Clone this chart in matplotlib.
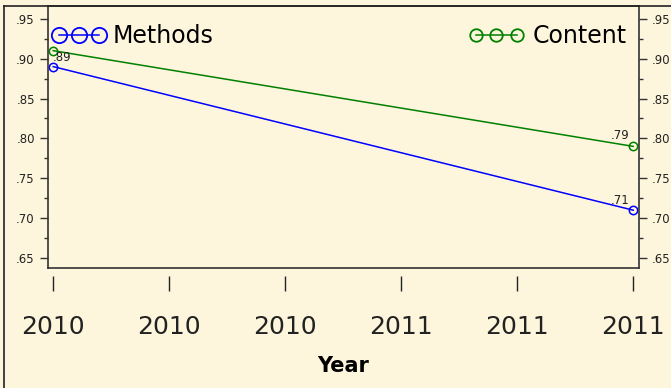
import numpy as np
import matplotlib.pyplot as plt
from matplotlib.lines import Line2D

DPI = 100

years = [2010, 2011]
methods = [0.89, 0.71]
content = [0.91, 0.79]
methods_labels = ['.89', '.71']
content_labels = ['', '.79']

xtick_pos = np.linspace(2010, 2011, 6)
xtick_labels = ['2010', '2010', '2010', '2011', '2011', '2011']
ytick_pos = [0.65, 0.70, 0.75, 0.80, 0.85, 0.90, 0.95]
ytick_labels = ['.65', '.70', '.75', '.80', '.85', '.90', '.95']

bg = '#fef6dc'
fig = plt.figure(figsize=(671/DPI, 388/DPI), dpi=DPI, facecolor=bg)
ax = fig.add_axes([48/671, 120/388, 591/671, 262/388])
ax.set_facecolor(bg)

ax.plot(years, methods, color='#0000ff', lw=1.1, marker='o', ms=6,
        mfc='none', mew=1.1)
ax.plot(years, content, color='#008000', lw=1.1, marker='o', ms=6,
        mfc='none', mew=1.1)

# point labels
for x, y, t in zip(years, methods, methods_labels):
    if t:
        ha = 'left' if x == years[0] else 'right'
        dx = 0 if x == years[0] else -3
        ax.annotate(t, (x, y), xytext=(dx, 2), textcoords='offset points',
                    ha=ha, va='bottom', fontsize=8.5, color='#222222')
for x, y, t in zip(years, content, content_labels):
    if t:
        ax.annotate(t, (x, y), xytext=(-3, 3), textcoords='offset points',
                    ha='right', va='bottom', fontsize=8.5, color='#222222')

ax.set_xlim(2010 - 0.009, 2011 + 0.01)
ax.set_ylim(0.6375, 0.966)

# y axes on both sides
ax.set_yticks(ytick_pos)
ax.set_yticklabels(ytick_labels)
ax.set_yticks(np.arange(0.675, 0.96, 0.05), minor=True)
ax.tick_params(axis='y', which='both', left=True, right=True,
               labelleft=True, labelright=True, direction='out',
               labelsize=8.5, colors='#333333', labelcolor='#222222')
ax.tick_params(axis='y', which='major', length=6, width=1)
ax.tick_params(axis='y', which='minor', length=3, width=1)

# x axis detached below the box
ax.set_xticks(xtick_pos)
ax.set_xticklabels(xtick_labels)
ax.spines['bottom'].set_position(('outward', 6))
ax.spines['bottom'].set_visible(False)
ax.tick_params(axis='x', direction='out', length=11, width=1, pad=17,
               labelsize=18, colors='#222222')
ax.add_line(Line2D([0, 1], [0, 0], transform=ax.transAxes, color='#333333',
                   lw=1.2, clip_on=False))
for s in ['left', 'right', 'top']:
    ax.spines[s].set_color('#333333')
    ax.spines[s].set_linewidth(1.2)

ax.set_xlabel('Year', fontsize=15, fontweight='bold', labelpad=12)

# legends
h_m = Line2D([], [], color='#0000ff', lw=1.1, marker='o', ms=11,
             mfc='none', mew=1.3)
h_c = Line2D([], [], color='#008000', lw=1.1, marker='o', ms=9,
             mfc='none', mew=1.3)
leg1 = ax.legend([h_m], ['Methods'], loc='upper left', numpoints=3,
                 frameon=False, fontsize=17, handlelength=2.3,
                 handletextpad=0.3, borderaxespad=0.3,
                 bbox_to_anchor=(-0.022, 0.995))
ax.add_artist(leg1)
ax.legend([h_c], ['Content'], loc='upper right', numpoints=3,
          frameon=False, fontsize=17, handlelength=2.3,
          handletextpad=0.4, borderaxespad=0.3,
          bbox_to_anchor=(1.008, 0.995))

# outer frame lines (left and top)
fig.add_artist(Line2D([4/671, 4/671], [0, 382/388], color='#222222', lw=1.2))
fig.add_artist(Line2D([4/671, 1], [382/388, 382/388], color='#222222', lw=1.2))

plt.savefig('out.png', dpi=DPI, facecolor=bg)
